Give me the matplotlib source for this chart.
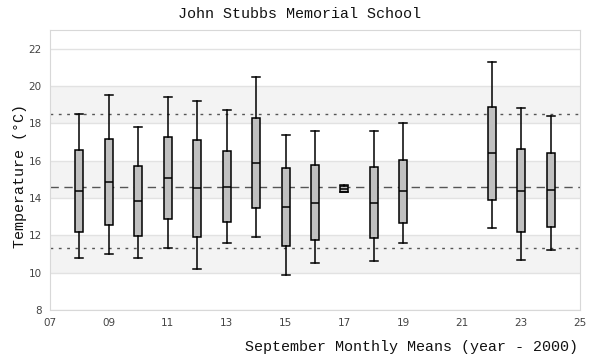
# September monthly means box plot

import matplotlib
matplotlib.use("Agg")
import matplotlib.pyplot as plt

# Data

years = [8, 9, 10, 11, 12, 13, 14, 15, 16, 17, 18, 19, 22, 23, 24]
whis_lo = [10.77, 10.99, 10.77, 11.31, 10.18, 11.58, 11.90, 9.86, 10.50, 14.30, 10.61, 11.58, 12.38, 10.67, 11.20]
q1 = [12.17, 12.54, 11.95, 12.87, 11.90, 12.70, 13.46, 11.42, 11.73, 14.30, 11.84, 12.65, 13.89, 12.17, 12.44]
med = [14.37, 14.85, 13.83, 15.08, 14.53, 14.60, 15.87, 13.51, 13.72, 14.48, 13.72, 14.37, 16.41, 14.37, 14.42]
q3 = [16.57, 17.16, 15.71, 17.27, 17.10, 16.51, 18.28, 15.60, 15.76, 14.62, 15.65, 16.03, 18.87, 16.62, 16.41]
whis_hi = [18.50, 19.52, 17.80, 19.41, 19.20, 18.71, 20.48, 17.37, 17.59, 14.70, 17.59, 18.02, 21.29, 18.82, 18.39]

mean_line = 14.6
upper_line = 18.5
lower_line = 11.3

bands = [(10, 12), (14, 16), (18, 20)]
xticks = [7, 9, 11, 13, 15, 17, 19, 21, 23, 25]
yticks = [8, 10, 12, 14, 16, 18, 20, 22]

# Build the stats for bxp

stats = []
for i in range(len(years)):
    stats.append({"whislo": whis_lo[i], "q1": q1[i], "med": med[i],
                  "q3": q3[i], "whishi": whis_hi[i], "fliers": []})

fig = plt.figure(figsize=(6, 3.6), dpi=100)
ax = fig.add_axes([50 / 600, 50 / 360, 530 / 600, 280 / 360])

for lo, hi in bands:
    ax.axhspan(lo, hi, color="#f3f3f3", zorder=0, lw=0)
for y in yticks:
    ax.axhline(y, color="#e2e2e2", lw=1, zorder=1)

ax.axhline(mean_line, color="#555555", lw=1, ls=(0, (6, 4)), zorder=2)
ax.axhline(upper_line, color="#555555", lw=1, ls=(0, (2, 4)), zorder=2)
ax.axhline(lower_line, color="#555555", lw=1, ls=(0, (2, 4)), zorder=2)

ax.bxp(stats, positions=years, widths=0.27, patch_artist=True, showfliers=False,
       boxprops=dict(facecolor="#c0c0c0", edgecolor="black", lw=1.1),
       medianprops=dict(color="black", lw=1.1),
       whiskerprops=dict(color="black", lw=1.1),
       capprops=dict(color="black", lw=1.1),
       capwidths=0.27, zorder=3)

ax.set_xlim(7, 25)
ax.set_ylim(8, 23)
ax.set_xticks(xticks)
ax.set_xticklabels(["%02d" % x for x in xticks])
ax.set_yticks(yticks)
ax.tick_params(length=0, labelsize=7.5, labelcolor="#444444", pad=6)
for s in ax.spines.values():
    s.set_color("#d8d8d8")

mono = ["Liberation Mono", "DejaVu Sans Mono"]
fig.text(0.5, 1 - 14 / 360, "John Stubbs Memorial School", ha="center", va="center",
         family=mono, fontsize=10.8, color="#111111")
fig.text(578 / 600, 1 - 347 / 360, "September Monthly Means (year - 2000)", ha="right",
         va="center", family=mono, fontsize=10.8, color="#111111")
fig.text(20 / 600, 1 - 176 / 360, "Temperature (°C)", ha="center", va="center",
         rotation=90, family=mono, fontsize=10.8, color="#111111")

fig.savefig("out.png", dpi=100)
